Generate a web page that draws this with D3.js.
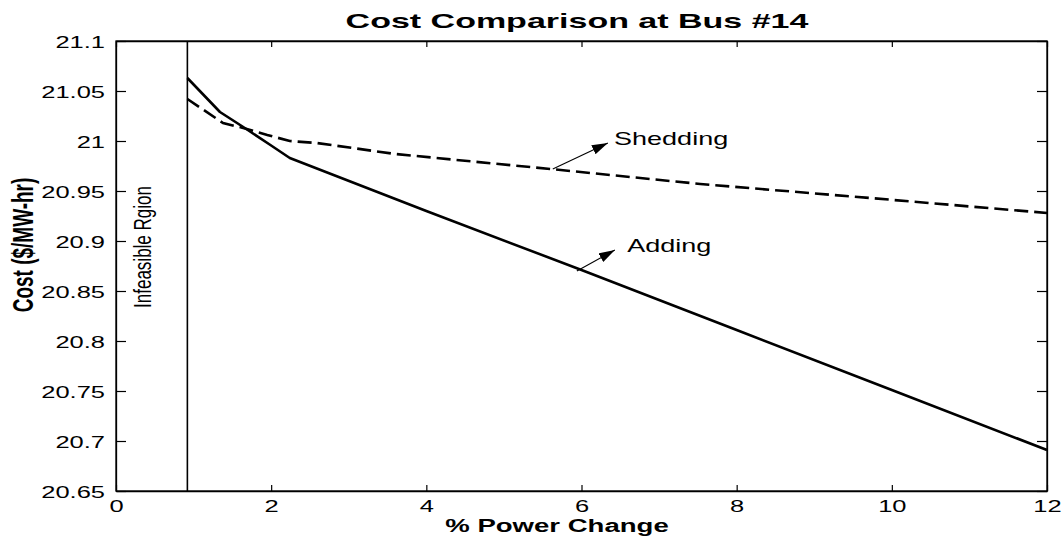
<!DOCTYPE html>
<html>
<head>
<meta charset="utf-8">
<script src="https://cdn.jsdelivr.net/npm/d3@7"></script>
<style>
  html, body { margin: 0; padding: 0; background: #fff; }
  svg { display: block; }
  text { font-family: "Liberation Sans", Arial, Helvetica, sans-serif; fill: #000; }
</style>
</head>
<body>
<svg id="chart" width="1064" height="540"></svg>
<script>
// ---- data ----
const title = "Cost Comparison at Bus #14";
const xLabel = "% Power Change";
const yLabel = "Cost ($/MW-hr)";
const xTicks = [0, 2, 4, 6, 8, 10, 12];
const yTicks = [20.65, 20.7, 20.75, 20.8, 20.85, 20.9, 20.95, 21, 21.05, 21.1];
const xDomain = [0, 12];
const yDomain = [20.65, 21.1];

const addingX = [0.92, 1.34, 1.66, 1.99, 2.24, 4, 6, 8, 10, 12];
const addingY = [21.063, 21.029, 21.013, 20.996, 20.983, 20.930, 20.871, 20.811, 20.751, 20.691];

const sheddingX = [0.92, 1.38, 1.64, 1.95, 2.24, 2.59, 3.6, 5.6, 7.53, 9.72, 12];
const sheddingY = [21.042, 21.018, 21.013, 21.006, 21.000, 20.998, 20.987, 20.972, 20.957, 20.943, 20.928];

const infeasibleX = 0.92;
const infeasibleLabel = "Infeasible Rgion";

const annotLabels = ["Shedding", "Adding"];
const annotFromX = [5.63, 5.94];
const annotFromY = [20.972, 20.870];
const annotToX = [6.34, 6.43];
const annotToY = [20.998, 20.891];
const annotTextX = [6.42, 6.59];
const annotTextY = [20.996, 20.889];

// ---- layout ----
const L = 116, R = 1047, T = 41, B = 491;
const SX = 1.5; // horizontal glyph stretch of the original

const svg = d3.select("#chart");
const x = d3.scaleLinear().domain(xDomain).range([L, R]);
const y = d3.scaleLinear().domain(yDomain).range([B, T]);

const fmt = d => String(+d.toFixed(2));

// frame
svg.append("rect").attr("x", L).attr("y", T).attr("width", R - L).attr("height", B - T)
  .attr("fill", "none").attr("stroke", "#000").attr("stroke-width", 1.3);

// axes
const gL = svg.append("g").attr("transform", `translate(${L},0)`)
  .call(d3.axisLeft(y).tickValues(yTicks).tickSizeInner(-10).tickSizeOuter(0).tickPadding(11 / SX).tickFormat(fmt));
const gR = svg.append("g").attr("transform", `translate(${R},0)`)
  .call(d3.axisRight(y).tickValues(yTicks).tickSizeInner(-10).tickSizeOuter(0).tickFormat(""));
const gB = svg.append("g").attr("transform", `translate(0,${B})`)
  .call(d3.axisBottom(x).tickValues(xTicks).tickSizeInner(-6).tickSizeOuter(0).tickPadding(10).tickFormat(fmt));
const gT = svg.append("g").attr("transform", `translate(0,${T})`)
  .call(d3.axisTop(x).tickValues(xTicks).tickSizeInner(-6).tickSizeOuter(0).tickFormat(""));

[gL, gR, gB, gT].forEach(g => {
  g.select(".domain").attr("stroke", "#000").attr("stroke-width", 1.3);
  g.selectAll(".tick line").attr("stroke", "#000").attr("stroke-width", 1.2);
  g.selectAll(".tick text").attr("font-size", 17)
    .attr("font-family", "'Liberation Sans', Arial, sans-serif").attr("fill", "#000")
    .attr("transform", `scale(${SX},1)`);
});
gL.selectAll(".tick text").attr("dy", "0.36em");
gB.selectAll(".tick text").attr("dy", "0.66em");

// infeasible boundary
svg.append("line").attr("x1", x(infeasibleX)).attr("x2", x(infeasibleX))
  .attr("y1", T).attr("y2", B).attr("stroke", "#000").attr("stroke-width", 1.6);

svg.append("text")
  .attr("transform", `translate(151,247) scale(1.4,1) rotate(-90)`)
  .attr("text-anchor", "middle").attr("font-size", 17)
  .text(infeasibleLabel);

// lines
const line = d3.line().x(d => x(d[0])).y(d => y(d[1]));
svg.append("path").datum(addingX.map((v, i) => [v, addingY[i]]))
  .attr("d", line).attr("fill", "none").attr("stroke", "#000").attr("stroke-width", 2.6)
  .attr("stroke-linejoin", "round");
svg.append("path").datum(sheddingX.map((v, i) => [v, sheddingY[i]]))
  .attr("d", line).attr("fill", "none").attr("stroke", "#000").attr("stroke-width", 2.6)
  .attr("stroke-dasharray", "14,6");

// arrows
const defs = svg.append("defs");
defs.append("marker").attr("id", "ah").attr("markerUnits", "userSpaceOnUse")
  .attr("markerWidth", 18).attr("markerHeight", 12).attr("refX", 16).attr("refY", 5)
  .attr("orient", "auto")
  .append("path").attr("d", "M0,0 L16,5 L0,10 Z").attr("fill", "#000");

annotLabels.forEach((lab, i) => {
  svg.append("line")
    .attr("x1", x(annotFromX[i])).attr("y1", y(annotFromY[i]))
    .attr("x2", x(annotToX[i])).attr("y2", y(annotToY[i]))
    .attr("stroke", "#000").attr("stroke-width", 1.1)
    .attr("marker-end", "url(#ah)");
  svg.append("text")
    .attr("transform", `translate(${x(annotTextX[i])},${y(annotTextY[i])}) scale(${SX},1)`)
    .attr("font-size", 18).text(lab);
});

// titles
svg.append("text")
  .attr("transform", `translate(577,28) scale(1.62,1)`)
  .attr("text-anchor", "middle").attr("font-size", 21).attr("font-weight", "bold")
  .text(title);

svg.append("text")
  .attr("transform", `translate(557,532) scale(1.45,1)`)
  .attr("text-anchor", "middle").attr("font-size", 19).attr("font-weight", "bold")
  .text(xLabel);

svg.append("text")
  .attr("transform", `translate(33,245) scale(1.6,1) rotate(-90)`)
  .attr("text-anchor", "middle").attr("font-size", 19).attr("font-weight", "bold")
  .text(yLabel);
</script>
</body>
</html>
